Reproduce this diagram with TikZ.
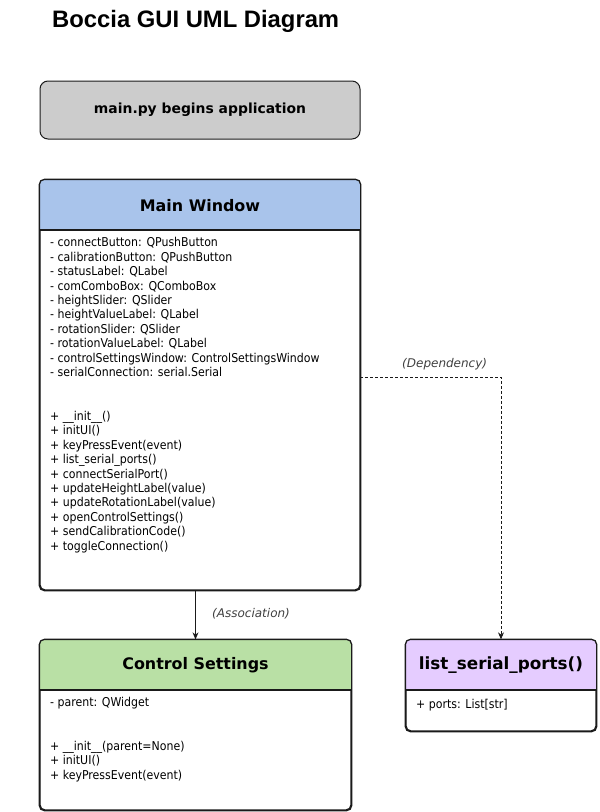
\documentclass[tikz,border=0pt]{standalone}
\usepackage{fontspec}
\setmainfont{DejaVu Sans Condensed}
\newfontfamily\titlefont{Liberation Sans}
\newfontfamily\headfont{DejaVu Sans}
\usetikzlibrary{arrows.meta}
\definecolor{mwblue}{HTML}{A9C4EB}
\definecolor{csgreen}{HTML}{B9E0A5}
\definecolor{lsppurple}{HTML}{E5CCFF}
\definecolor{startgray}{HTML}{CCCCCC}
\definecolor{edge}{HTML}{1A1A1A}
\tikzset{
  classbox/.style={draw=edge, line width=1.3pt, rounded corners=5pt, fill=white, inner sep=0pt},
  startbox/.style={draw=edge, line width=1pt, rounded corners=8pt, fill=startgray, inner sep=0pt,
     minimum width=320pt, minimum height=58pt, font=\headfont\fontsize{13.9}{16}\selectfont\bfseries},
  headtext/.style={font=\headfont\fontsize{15.9}{19}\selectfont\bfseries, inner sep=0pt},
  membertext/.style={font=\fontsize{12.2}{14.4}\selectfont, align=left, anchor=north west, inner sep=0pt},
  edgelabel/.style={font=\headfont\fontsize{12}{14}\selectfont\itshape, text=black!75, inner sep=0pt},
  conn/.style={draw=edge, line width=0.9pt, -{Stealth[length=7pt,width=6pt]}},
}
\begin{document}
\begin{tikzpicture}[x=1pt,y=-1pt]
\useasboundingbox (0,0) rectangle (600,812);

\node[anchor=west, inner sep=0pt, font=\titlefont\fontsize{23.8}{28}\selectfont\bfseries] (title) at (52,21) {Boccia GUI UML Diagram};

\node[startbox] (start) at (200,110) {main.py begins application};

% Main Window
\node[classbox, minimum width=320pt, minimum height=410pt] (mw) at (200,385) {};
\begin{scope}
  \clip[rounded corners=5pt] (mw.north west) rectangle (mw.south east);
  \fill[mwblue] (mw.north west) rectangle (360,230);
\end{scope}
\draw[edge, line width=1.3pt, rounded corners=5pt] (mw.north west) rectangle (mw.south east);
\draw[edge, line width=1.1pt] (40,230) -- (360,230);
\node[headtext] (mwt) at (200,206) {Main Window};
\node[membertext] (mwattr) at (50,237.5) {- connectButton: QPushButton\\
- calibrationButton: QPushButton\\
- statusLabel: QLabel\\
- comComboBox: QComboBox\\
- heightSlider: QSlider\\
- heightValueLabel: QLabel\\
- rotationSlider: QSlider\\
- rotationValueLabel: QLabel\\
- controlSettingsWindow: ControlSettingsWindow\\
- serialConnection: serial.Serial};
\node[membertext] (mwmeth) at (50,411) {+ \_\_init\_\_()\\
+ initUI()\\
+ keyPressEvent(event)\\
+ list\_serial\_ports()\\
+ connectSerialPort()\\
+ updateHeightLabel(value)\\
+ updateRotationLabel(value)\\
+ openControlSettings()\\
+ sendCalibrationCode()\\
+ toggleConnection()};

% Control Settings
\node[classbox, minimum width=311pt, minimum height=170pt] (cs) at (195.5,725) {};
\begin{scope}
  \clip[rounded corners=5pt] (cs.north west) rectangle (cs.south east);
  \fill[csgreen] (cs.north west) rectangle (351,690);
\end{scope}
\draw[edge, line width=1.3pt, rounded corners=5pt] (cs.north west) rectangle (cs.south east);
\draw[edge, line width=1.1pt] (40,690) -- (351,690);
\node[headtext] (cst) at (195.5,665) {Control Settings};
\node[membertext] (csattr) at (50,697.5) {- parent: QWidget};
\node[membertext] (csmeth) at (50,741) {+ \_\_init\_\_(parent=None)\\
+ initUI()\\
+ keyPressEvent(event)};

% list_serial_ports()
\node[classbox, minimum width=190pt, minimum height=91pt] (lsp) at (501,685.5) {};
\begin{scope}
  \clip[rounded corners=5pt] (lsp.north west) rectangle (lsp.south east);
  \fill[lsppurple] (lsp.north west) rectangle (596,690);
\end{scope}
\draw[edge, line width=1.3pt, rounded corners=5pt] (lsp.north west) rectangle (lsp.south east);
\draw[edge, line width=1.1pt] (406,690) -- (596,690);
\node[headtext, font=\headfont\fontsize{16.8}{20}\selectfont\bfseries] (lspt) at (501,665) {list\_serial\_ports()};
\node[membertext] (lspattr) at (416,699) {+ ports: List[str]};

% connectors
\draw[conn] (cs.north |- mw.south) -- (cs.north);
\node[edgelabel, anchor=west] (assoc) at (212,614) {(Association)};
\coordinate (depstart) at (360,377);
\draw[conn, dashed, dash pattern=on 3pt off 2pt] (depstart) -| (lsp.north);
\node[edgelabel, anchor=west] (dep) at (402,364) {(Dependency)};
\end{tikzpicture}
\end{document}
